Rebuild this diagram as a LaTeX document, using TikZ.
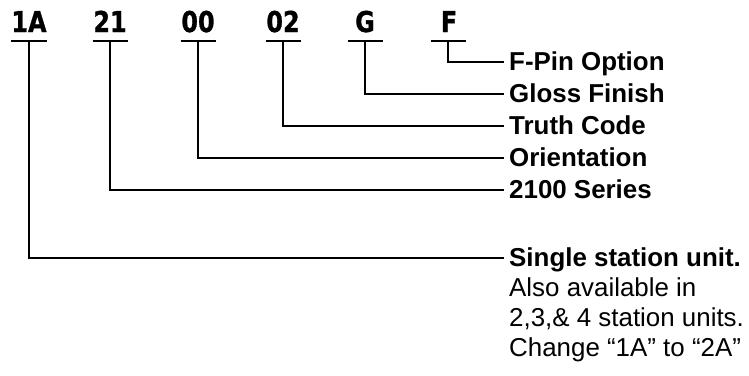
\documentclass[tikz,border=0pt]{standalone}
\usepackage{fontspec}
\setmainfont{Liberation Sans}
\newfontfamily\codefont{DejaVu Sans}[BoldFeatures={FakeBold=1.2}]
\newcommand{\codetxt}[1]{\scalebox{1}[1.2]{#1}}
\begin{document}
\begin{tikzpicture}[x=1bp,y=-1bp,
  code/.style={font=\codefont\bfseries\fontsize{24}{24}\selectfont, inner sep=0pt, anchor=base},
  lbl/.style={font=\bfseries\fontsize{26}{30}\selectfont, inner sep=0pt, anchor=west, text height=18bp, text depth=2bp},
  note/.style={font=\fontsize{26}{30}\selectfont, inner sep=0pt, anchor=base west},
  wire/.style={line width=1.8bp, line cap=rect}]
\useasboundingbox (0,0) rectangle (749,375);
% codes
\node[code] (c1) at (29,32) {\codetxt{1A}};
\node[code] (c2) at (110,32) {\codetxt{21}};
\node[code] (c3) at (198,32) {\codetxt{00}};
\node[code] (c4) at (283,32) {\codetxt{02}};
\node[code] (c5) at (365,32) {\codetxt{G}};
\node[code] (c6) at (449,32) {\codetxt{F}};
% underline centres
\coordinate (u1) at (29,41);
\coordinate (u2) at (110,41);
\coordinate (u3) at (198,41);
\coordinate (u4) at (283,41);
\coordinate (u5) at (365,41);
\coordinate (u6) at (448,41);
\foreach \i in {1,...,6}{
  \draw[wire, line cap=butt] ([xshift=-17.5bp]u\i) -- ([xshift=17.5bp]u\i);
}
% labels
\node[lbl] (l1) at (509,62) {F-Pin Option};
\node[lbl] (l2) at (509,94) {Gloss Finish};
\node[lbl] (l3) at (509,126) {Truth Code};
\node[lbl] (l4) at (509,158) {Orientation};
\node[lbl] (l5) at (509,190) {2100 Series};
\node[lbl] (l6) at (509,258) {Single station unit.};
\node[note] (n1) at (509,296) {Also available in};
\node[note] (n2) at (509,326) {2,3,\& 4 station units.};
\node[note] (n3) at (509,356) {Change “1A” to “2A”};
% connectors
\draw[wire] (u6) |- ([xshift=-6bp]l1.west);
\draw[wire] (u5) |- ([xshift=-6bp]l2.west);
\draw[wire] (u4) |- ([xshift=-6bp]l3.west);
\draw[wire] (u3) |- ([xshift=-6bp]l4.west);
\draw[wire] (u2) |- ([xshift=-6bp]l5.west);
\draw[wire] (u1) |- ([xshift=-6bp]l6.west);
\end{tikzpicture}
\end{document}
